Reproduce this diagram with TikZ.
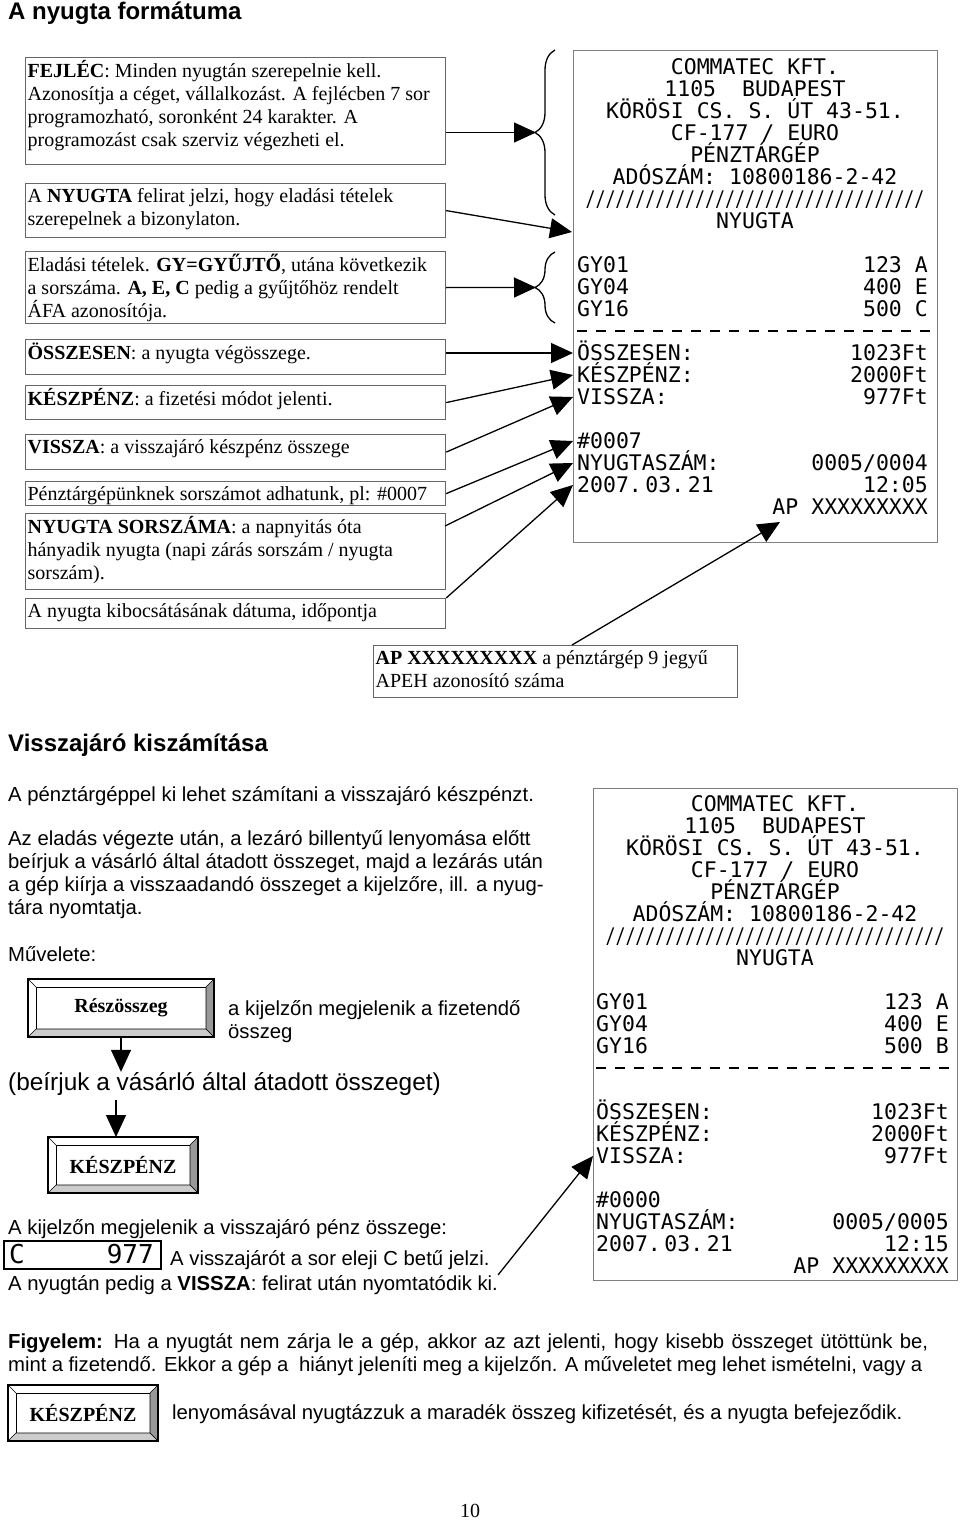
\documentclass[tikz,border=0pt]{standalone}
\usepackage{fontspec}
\usepackage{graphicx}
\setmainfont{Liberation Serif}
\newfontfamily\helv{Liberation Sans}
\newfontfamily\dotfont{DejaVu Sans Mono}
\usetikzlibrary{arrows.meta,decorations.pathreplacing}

\newcommand{\boxtxt}[3]{\parbox[c][#2][t]{#1}{\raggedright\strut#3}}

\tikzset{
  descbox/.style={draw=black!60, line width=1.2pt, inner xsep=2pt, inner ysep=3pt, anchor=north west, font=\fontsize{20}{23}\selectfont},
  recbox/.style={draw=black!50, line width=1.3pt, anchor=north west, inner sep=0pt, minimum width=364pt, minimum height=492pt},
  rline/.style={font=\dotfont\fontsize{21.5}{22}\selectfont, inner sep=0pt, text height=15.7pt, text depth=0pt},
  bigarrow/.style={-{Triangle[length=22pt,width=20pt]}, line width=1.3pt},
  body/.style={font=\helv\fontsize{20.3}{23}\selectfont, inner sep=0pt, anchor=base west},
  heading/.style={font=\helv\bfseries\fontsize{24}{28}\selectfont, inner sep=0pt, anchor=base west},
  keyout/.style={draw, line width=1.6pt, inner sep=0pt, outer sep=0pt, anchor=north west},
  keyin/.style={draw, line width=0.8pt, inner sep=0pt, outer sep=0pt, font=\bfseries\fontsize{20}{23}\selectfont},
  bracket/.style={decorate, decoration={brace, amplitude=20pt}, line width=1.3pt},
}

\begin{document}
\begin{tikzpicture}[x=1pt,y=1pt,yscale=-1]
\useasboundingbox (0,0) rectangle (960,1522);

% ---- A nyugta formatuma ----
\node[heading] (cim1) at (8,20) {A nyugta formátuma};

\node[descbox] (fejlec) at (25,57) {\boxtxt{416pt}{101pt}{\textbf{FEJLÉC}: Minden nyugtán szerepelnie kell.\\Azonosítja a céget, vállalkozást. A fejlécben 7 sor\\programozható, soronként 24 karakter. A\\programozást csak szerviz végezheti el.}};
\node[descbox] (nyfel) at (25,183) {\boxtxt{416pt}{48pt}{A \textbf{NYUGTA} felirat jelzi, hogy eladási tételek\\szerepelnek a bizonylaton.}};
\node[descbox] (tetel) at (25,251) {\boxtxt{416pt}{66pt}{Eladási tételek. \textbf{GY=GYŰJTŐ}, utána következik\\a sorszáma. \textbf{A, E, C} pedig a gyűjtőhöz rendelt\\ÁFA azonosítója.}};
\node[descbox] (osszb) at (25,339) {\boxtxt{416pt}{29pt}{\textbf{ÖSSZESEN}: a nyugta végösszege.}};
\node[descbox] (keszb) at (25,385) {\boxtxt{416pt}{28pt}{\textbf{KÉSZPÉNZ}: a fizetési módot jelenti.}};
\node[descbox] (visszb) at (25,434) {\boxtxt{416pt}{29pt}{\textbf{VISSZA}: a visszajáró készpénz összege}};
\node[descbox] (sorszb) at (25,481) {\boxtxt{416pt}{18pt}{Pénztárgépünknek sorszámot adhatunk, pl: \#0007}};
\node[descbox] (nysorb) at (25,513) {\boxtxt{416pt}{70pt}{\textbf{NYUGTA SORSZÁMA}: a napnyitás óta\\hányadik nyugta (napi zárás sorszám / nyugta\\sorszám).}};
\node[descbox] (datumb) at (25,598) {\boxtxt{416pt}{24pt}{A nyugta kibocsátásának dátuma, időpontja}};
\node[descbox] (apb) at (373,645) {\boxtxt{360pt}{46pt}{\textbf{AP XXXXXXXXX} a pénztárgép 9 jegyű\\APEH azonosító száma}};

% nyugta 1
\node[recbox] (rec1) at (573,50) {};
\foreach \sor [count=\k from 0] in {COMMATEC KFT., 1105~~BUDAPEST, KÖRÖSI CS. S. ÚT 43-51., CF-177~/~EURO, PÉNZTÁRGÉP, ADÓSZÁM: 10800186-2-42}
  \node[rline] (r1h\k) at (755,{67+22*\k}) {\sor};
\node[rline] (r1per) at (755,199) {\scalebox{0.77}[1]{//////////////////////////////////}};
\node[rline] (r1nyugta) at (755,221) {NYUGTA};
\node[rline, anchor=west] (r1gy1) at (577,265) {GY01};
\node[rline, anchor=east] (r1gy1v) at (928,265) {123 A};
\node[rline, anchor=west] (r1gy4) at (577,287) {GY04};
\node[rline, anchor=east] (r1gy4v) at (928,287) {400 E};
\node[rline, anchor=west] (r1gy16) at (577,309) {GY16};
\node[rline, anchor=east] (r1gy16v) at (928,309) {500 C};
\draw[line width=2pt, dash pattern=on 10pt off 9.06pt] (577,331) -- (930,331);
\node[rline, anchor=west] (r1ossz) at (577,353) {ÖSSZESEN:};
\node[rline, anchor=east] (r1osszv) at (928,353) {1023Ft};
\node[rline, anchor=west] (r1kesz) at (577,375) {KÉSZPÉNZ:};
\node[rline, anchor=east] (r1keszv) at (928,375) {2000Ft};
\node[rline, anchor=west] (r1vissza) at (577,397) {VISSZA:};
\node[rline, anchor=east] (r1visszav) at (928,397) {977Ft};
\node[rline, anchor=west] (r1szam) at (577,441) {\#0007};
\node[rline, anchor=west] (r1nyszam) at (577,463) {NYUGTASZÁM:};
\node[rline, anchor=east] (r1nyszamv) at (928,463) {0005/0004};
\node[rline, anchor=west] (r1datum) at (577,485) {2007.\,03.\,21};
\node[rline, anchor=east] (r1ido) at (928,485) {12:05};
\node[rline, anchor=east] (r1ap) at (928,507) {AP XXXXXXXXX};

% kapcsos zarojelek
\draw[bracket] (555,215) -- (555,50);
\draw[bracket] (555,323) -- (555,252);
\coordinate (b1tip) at (536,132.5);
\coordinate (b2tip) at (536,287.5);
\coordinate (r1nytip) at (572,232);
\coordinate (nysorstart) at (445,526);
\coordinate (apstart) at (572,645);
\coordinate (aptip) at (780,522);

% nyilak
\draw[bigarrow] (fejlec.east |- b1tip) -- (b1tip);
\draw[bigarrow] (nyfel.east) -- (r1nytip);
\draw[bigarrow] (tetel.east) -- (b2tip);
\draw[bigarrow] (osszb.east |- r1ossz.west) -- (rec1.west |- r1ossz.west);
\draw[bigarrow] (keszb.east) -- (rec1.west |- r1kesz.west);
\draw[bigarrow] (visszb.east) -- (rec1.west |- r1vissza.west);
\draw[bigarrow] (sorszb.east) -- (rec1.west |- r1szam.west);
\draw[bigarrow] (nysorstart) -- (rec1.west |- r1nyszam.west);
\draw[bigarrow] (datumb.north east) -- (rec1.west |- r1datum.west);
\draw[bigarrow] (apstart) -- (aptip);

% ---- Visszajaro kiszamitasa ----
\node[heading] (cim2) at (8,751) {Visszajáró kiszámítása};
\node[body] (p1) at (8,801) {A pénztárgéppel ki lehet számítani a visszajáró készpénzt.};
\node[body] (p2a) at (8,845) {Az eladás végezte után, a lezáró billentyű lenyomása előtt};
\node[body] (p2b) at (8,868) {beírjuk a vásárló által átadott összeget, majd a lezárás után};
\node[body] (p2c) at (8,891) {a gép kiírja a visszaadandó összeget a kijelzőre, ill. a nyug-};
\node[body] (p2d) at (8,914) {tára nyomtatja.};
\node[body] (muv) at (8,961) {Művelete:};

% gombok
\node[keyout, minimum width=186pt, minimum height=58pt] (reszK) at (28,979) {};
\node[keyin, minimum width=170pt, minimum height=42pt] (resz) at (reszK.center) {Részösszeg};
\node[keyout, minimum width=150pt, minimum height=56pt] (kp1K) at (48,1137) {};
\node[keyin, minimum width=134pt, minimum height=40pt] (kp1) at (kp1K.center) {KÉSZPÉNZ};
\node[keyout, minimum width=150pt, minimum height=56pt] (kp2K) at (8,1385) {};
\node[keyin, minimum width=134pt, minimum height=40pt] (kp2) at (kp2K.center) {KÉSZPÉNZ};
\foreach \b in {resz,kp1,kp2} {
  \filldraw[fill=black!40, line width=0.6pt] (\b K.north east) -- (\b.north east) -- (\b.south east) -- (\b K.south east) -- cycle;
  \filldraw[fill=black!20, line width=0.6pt] (\b K.south west) -- (\b.south west) -- (\b.south east) -- (\b K.south east) -- cycle;
  \draw[line width=0.6pt] (\b K.north west) -- (\b.north west);
  \draw[line width=1.6pt] (\b K.north west) rectangle (\b K.south east);
}

\node[body] (kij1) at (228,1015) {a kijelzőn megjelenik a fizetendő};
\node[body] (kij2) at (228,1038) {összeg};
\node[body, font=\helv\fontsize{24.4}{27}\selectfont] (beir) at (8,1090) {(beírjuk a vásárló által átadott összeget)};
\coordinate (a2) at (116,1100);
\draw[bigarrow] (resz.south |- reszK.south) -- (resz.south |- beir.north);
\draw[bigarrow] (a2) -- (a2 |- kp1K.north);

\node[body] (kij3) at (8,1234) {A kijelzőn megjelenik a visszajáró pénz összege:};
\node[draw, line width=2pt, minimum width=157pt, minimum height=28pt, anchor=north west, inner sep=0pt] (disp) at (3,1240) {};
\node[font=\dotfont\fontsize{26}{26}\selectfont, anchor=west, inner sep=0pt] (dispc) at (9,1254) {C};
\node[font=\dotfont\fontsize{26}{26}\selectfont, anchor=east, inner sep=0pt] (dispn) at (154,1254) {977};
\node[body] (cjelzi) at (170,1265) {A visszajárót a sor eleji C betű jelzi.};
\node[body] (nyvissza) at (8,1290) {A nyugtán pedig a \textbf{VISSZA}: felirat után nyomtatódik ki.};

% nyugta 2
\node[recbox] (rec2) at (593,788) {};
\foreach \sor [count=\k from 0] in {COMMATEC KFT., 1105~~BUDAPEST, KÖRÖSI CS. S. ÚT 43-51., CF-177~/~EURO, PÉNZTÁRGÉP, ADÓSZÁM: 10800186-2-42}
  \node[rline] (r2h\k) at (775,{804+22*\k}) {\sor};
\node[rline] (r2per) at (775,936) {\scalebox{0.77}[1]{//////////////////////////////////}};
\node[rline] (r2nyugta) at (775,958) {NYUGTA};
\node[rline, anchor=west] (r2gy1) at (596,1002) {GY01};
\node[rline, anchor=east] (r2gy1v) at (949,1002) {123 A};
\node[rline, anchor=west] (r2gy4) at (596,1024) {GY04};
\node[rline, anchor=east] (r2gy4v) at (949,1024) {400 E};
\node[rline, anchor=west] (r2gy16) at (596,1046) {GY16};
\node[rline, anchor=east] (r2gy16v) at (949,1046) {500 B};
\draw[line width=2pt, dash pattern=on 10pt off 9.06pt] (596,1068) -- (949,1068);
\node[rline, anchor=west] (r2ossz) at (596,1112) {ÖSSZESEN:};
\node[rline, anchor=east] (r2osszv) at (949,1112) {1023Ft};
\node[rline, anchor=west] (r2kesz) at (596,1134) {KÉSZPÉNZ:};
\node[rline, anchor=east] (r2keszv) at (949,1134) {2000Ft};
\node[rline, anchor=west] (r2vissza) at (596,1156) {VISSZA:};
\node[rline, anchor=east] (r2visszav) at (949,1156) {977Ft};
\node[rline, anchor=west] (r2szam) at (596,1200) {\#0000};
\node[rline, anchor=west] (r2nyszam) at (596,1222) {NYUGTASZÁM:};
\node[rline, anchor=east] (r2nyszamv) at (949,1222) {0005/0005};
\node[rline, anchor=west] (r2datum) at (596,1244) {2007.\,03.\,21};
\node[rline, anchor=east] (r2ido) at (949,1244) {12:15};
\node[rline, anchor=east] (r2ap) at (949,1266) {AP XXXXXXXXX};

\draw[bigarrow] (nyvissza.north east) -- (rec2.west |- r2vissza.west);

% figyelem
\node[body] (figy1) at (8,1348) {\makebox[920pt][s]{\textbf{Figyelem:} Ha a nyugtát nem zárja le a gép, akkor az azt jelenti, hogy kisebb összeget ütöttünk be,}};
\node[body] (figy2) at (8,1371) {\makebox[914pt][s]{mint a fizetendő. Ekkor a gép a \ hiányt jeleníti meg a kijelzőn. A műveletet meg lehet ismételni, vagy a}};
\node[body] (lenyom) at (172,1419) {lenyomásával nyugtázzuk a maradék összeg kifizetését, és a nyugta befejeződik.};
\node[font=\fontsize{20}{23}\selectfont, inner sep=0pt, anchor=base] (oldal) at (470,1517) {10};
\end{tikzpicture}
\end{document}
